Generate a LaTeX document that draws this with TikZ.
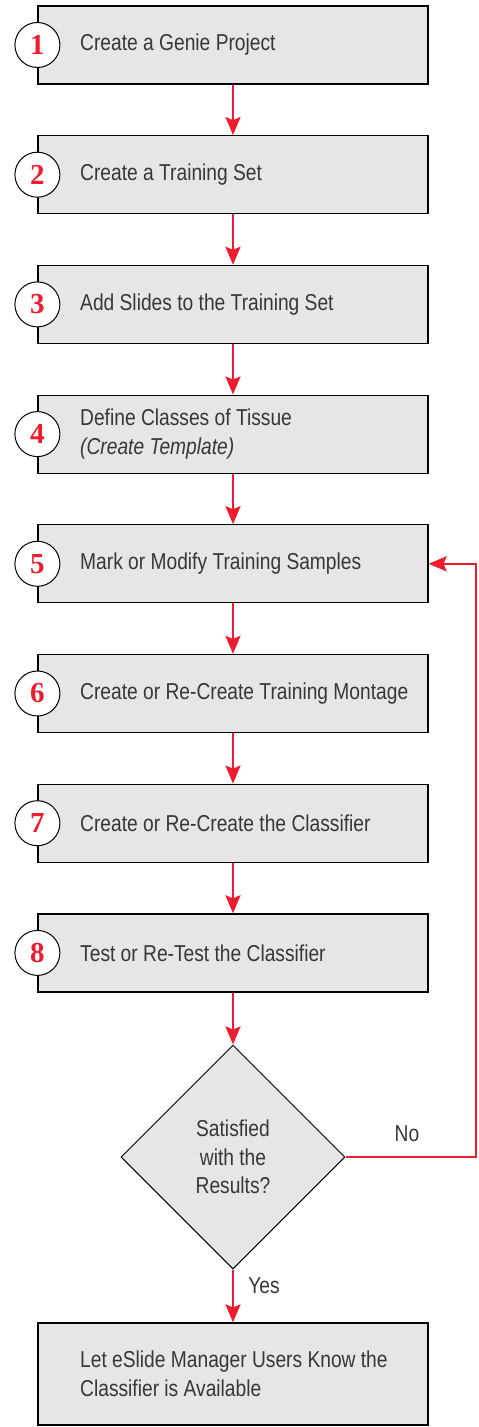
\documentclass[tikz,border=0pt]{standalone}
\usepackage{fontspec}
\setmainfont{Liberation Sans}[FakeStretch=0.835]
\newfontfamily\numfont{Liberation Serif}
\usetikzlibrary{shapes.geometric, arrows.meta}
\definecolor{flowred}{RGB}{237,28,46}
\definecolor{boxgray}{RGB}{230,230,230}
\definecolor{txtgray}{RGB}{55,55,55}
\tikzset{>={Stealth[length=18pt, width=15pt, inset=3pt]}}
\tikzset{
    stepbox/.style = {draw, line width=1.2pt, fill=boxgray, minimum width=390pt, minimum height=78pt, inner sep=0pt},
    steptext/.style = {anchor=west, inner sep=0pt, align=left, text=txtgray, font=\fontsize{23}{28.5}\selectfont},
    stepnum/.style = {draw, circle, line width=1pt, fill=white, minimum size=45pt, inner sep=0pt, text=flowred, font=\numfont\bfseries\fontsize{29}{29}\selectfont},
    decide/.style = {draw, diamond, aspect=1, line width=1pt, fill=boxgray, minimum width=224pt, minimum height=224pt, inner sep=0pt, align=center, text=txtgray, font=\fontsize{23}{28.5}\selectfont},
    flow/.style = {->, flowred, line width=2.5pt},
    lbl/.style = {text=txtgray, font=\fontsize{23}{28.5}\selectfont, inner sep=0pt}
}

\begin{document}
\begin{tikzpicture}[x=1pt, y=1pt]
    \useasboundingbox (0,0) rectangle (479,-1427);
    % steps
    \node[stepbox] (b1) at (233,-45) {};
    \node[stepbox] (b2) at (233,-174.7) {};
    \node[stepbox] (b3) at (233,-304.4) {};
    \node[stepbox] (b4) at (233,-434.1) {};
    \node[stepbox] (b5) at (233,-563.8) {};
    \node[stepbox] (b6) at (233,-693.5) {};
    \node[stepbox] (b7) at (233,-823.2) {};
    \node[stepbox] (b8) at (233,-952.9) {};
    \node[stepbox, minimum height=102pt] (b9) at (233,-1374) {};
    \node[steptext] (t1) at (80,-45) {Create a Genie Project};
    \node[steptext] (t2) at (80,-174.7) {Create a Training Set};
    \node[steptext] (t3) at (80,-304.4) {Add Slides to the Training Set};
    \node[steptext] (t4) at (80,-434.1) {Define Classes of Tissue\\\textit{(Create Template)}};
    \node[steptext] (t5) at (80,-563.8) {Mark or Modify Training Samples};
    \node[steptext] (t6) at (80,-693.5) {Create or Re-Create Training Montage};
    \node[steptext] (t7) at (80,-823.2) {Create or Re-Create the Classifier};
    \node[steptext] (t8) at (80,-952.9) {Test or Re-Test the Classifier};
    \node[steptext] (t9) at (80,-1374) {Let eSlide Manager Users Know the\\Classifier is Available};
    \node[stepnum] (n1) at (b1.west) {1};
    \node[stepnum] (n2) at (b2.west) {2};
    \node[stepnum] (n3) at (b3.west) {3};
    \node[stepnum] (n4) at (b4.west) {4};
    \node[stepnum] (n5) at (b5.west) {5};
    \node[stepnum] (n6) at (b6.west) {6};
    \node[stepnum] (n7) at (b7.west) {7};
    \node[stepnum] (n8) at (b8.west) {8};
    \node[decide] (dec) at (233,-1157) {Satisfied\\with the\\Results?};
    \coordinate (fb) at (476,-1157);
    % connectors
    \draw[flow] (b1) -- (b2);
    \draw[flow] (b2) -- (b3);
    \draw[flow] (b3) -- (b4);
    \draw[flow] (b4) -- (b5);
    \draw[flow] (b5) -- (b6);
    \draw[flow] (b6) -- (b7);
    \draw[flow] (b7) -- (b8);
    \draw[flow] (b8) -- (dec);
    \draw[flow] (dec) -- (b9);
    \draw[flow] (dec.east) -- (fb) |- (b5.east);
    \node[lbl] (no) at (407,-1134) {No};
    \node[lbl] (yes) at (264,-1286) {Yes};
\end{tikzpicture}
\end{document}
